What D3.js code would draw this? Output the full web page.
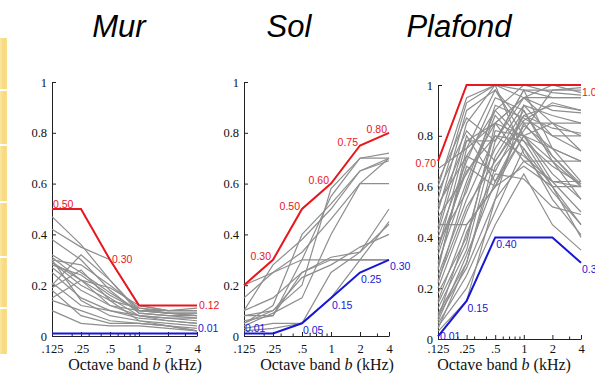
<!DOCTYPE html>
<html><head><meta charset="utf-8">
<script src="https://cdn.jsdelivr.net/npm/d3@7"></script>
<style>
html,body{margin:0;padding:0;background:#fff;overflow:hidden}
.serif{font-family:"Liberation Serif","DejaVu Serif","Times New Roman",serif !important}
.sans{font-family:"Liberation Sans",Arial,"DejaVu Sans",sans-serif !important}
</style>
</head><body>
<svg id="c" width="595" height="374"></svg>
<script>
// ---------- data ----------
const bands = [0.125, 0.25, 0.5, 1, 2, 4];
const bandLabels = [".125", ".25", ".5", "1", "2", "4"];
const minorBands = [0.2, 0.3, 0.4, 0.6, 0.7, 0.8, 0.9, 3];
const yTicks = [0, 0.2, 0.4, 0.6, 0.8, 1];
const yTickLabels = ["0", "0.2", "0.4", "0.6", "0.8", "1"];
const titles = ["Mur", "Sol", "Plafond"];
const xAxisTitle = "Octave band ";

const murMax = [0.50, 0.50, 0.30, 0.12, 0.12, 0.12];
const murMin = [0.01, 0.01, 0.01, 0.01, 0.01, 0.01];
const murMaxLabelIdx = [0, 2, 5];
const murMinLabelIdx = [5];
const murMaxLabelPos = ["ra", "r", "r"];
const murMinLabelPos = ["ra"];
const murGray = [
  [0.47, 0.36, 0.22, 0.10, 0.09, 0.09],
  [0.42, 0.35, 0.30, 0.12, 0.10, 0.10],
  [0.38, 0.30, 0.18, 0.09, 0.08, 0.07],
  [0.32, 0.25, 0.17, 0.10, 0.10, 0.11],
  [0.31, 0.22, 0.15, 0.08, 0.06, 0.05],
  [0.30, 0.28, 0.20, 0.11, 0.09, 0.08],
  [0.29, 0.20, 0.14, 0.06, 0.05, 0.04],
  [0.28, 0.24, 0.16, 0.10, 0.09, 0.09],
  [0.27, 0.18, 0.12, 0.08, 0.07, 0.06],
  [0.20, 0.32, 0.22, 0.09, 0.08, 0.08],
  [0.21, 0.12, 0.10, 0.07, 0.06, 0.05],
  [0.19, 0.26, 0.14, 0.11, 0.10, 0.10],
  [0.15, 0.22, 0.12, 0.10, 0.09, 0.08],
  [0.14, 0.10, 0.06, 0.05, 0.04, 0.03],
  [0.10, 0.05, 0.04, 0.04, 0.03, 0.02],
  [0.30, 0.14, 0.08, 0.06, 0.04, 0.02],
  [0.18, 0.08, 0.05, 0.05, 0.04, 0.02],
  [0.25, 0.15, 0.10, 0.08, 0.07, 0.07],
  [0.29, 0.22, 0.19, 0.12, 0.10, 0.10]
];

const solMax = [0.20, 0.30, 0.50, 0.60, 0.75, 0.80];
const solMin = [0.01, 0.01, 0.05, 0.15, 0.25, 0.30];
const solMaxLabelIdx = [1, 2, 3, 4, 5];
const solMinLabelIdx = [0, 2, 3, 4, 5];
const solMaxLabelPos = ["la", "la", "la", "la", "la"];
const solMinLabelPos = ["ra", "rb", "rb", "rb", "rb"];
const solGray = [
  [0.15, 0.25, 0.30, 0.30, 0.30, 0.30],
  [0.20, 0.25, 0.33, 0.46, 0.60, 0.60],
  [0.10, 0.28, 0.38, 0.50, 0.65, 0.70],
  [0.10, 0.15, 0.25, 0.31, 0.33, 0.44],
  [0.08, 0.08, 0.30, 0.55, 0.70, 0.70],
  [0.05, 0.10, 0.20, 0.58, 0.70, 0.72],
  [0.04, 0.09, 0.15, 0.40, 0.60, 0.70],
  [0.03, 0.05, 0.05, 0.25, 0.33, 0.50],
  [0.02, 0.03, 0.05, 0.15, 0.30, 0.45],
  [0.08, 0.10, 0.23, 0.28, 0.35, 0.40],
  [0.05, 0.12, 0.40, 0.52, 0.65, 0.69],
  [0.06, 0.08, 0.25, 0.30, 0.30, 0.30]
];

const plaMax = [0.70, 1.00, 1.00, 1.00, 1.00, 1.00];
const plaMin = [0.01, 0.15, 0.40, 0.40, 0.40, 0.30];
const plaMaxLabelIdx = [0, 5];
const plaMinLabelIdx = [0, 1, 2, 5];
const plaMaxLabelPos = ["l", "rb"];
const plaMinLabelPos = ["r", "rb", "rb", "rb"];
const plaGray = [
  [0.67, 0.75, 0.85, 0.80, 0.75, 0.70],
  [0.45, 0.45, 0.60, 0.80, 0.85, 0.80],
  [0.60, 0.95, 1.00, 0.98, 0.98, 0.98],
  [0.55, 0.93, 1.00, 0.95, 0.95, 0.95],
  [0.50, 0.90, 0.98, 0.85, 0.72, 0.60],
  [0.52, 0.78, 0.78, 0.95, 0.90, 0.89],
  [0.40, 0.70, 0.95, 0.90, 0.70, 0.55],
  [0.35, 0.78, 0.85, 0.70, 0.62, 0.60],
  [0.30, 0.62, 0.90, 1.00, 0.97, 0.96],
  [0.28, 0.72, 0.66, 0.88, 0.83, 0.81],
  [0.25, 0.55, 0.80, 0.78, 0.60, 0.45],
  [0.22, 0.60, 0.88, 0.75, 0.55, 0.41],
  [0.20, 0.50, 0.75, 0.92, 0.80, 0.74],
  [0.18, 0.40, 0.82, 0.80, 0.70, 0.70],
  [0.15, 0.45, 0.60, 0.85, 0.85, 0.85],
  [0.12, 0.35, 0.78, 0.98, 0.75, 0.62],
  [0.10, 0.30, 0.72, 0.90, 0.72, 0.61],
  [0.08, 0.42, 0.65, 0.63, 0.52, 0.49],
  [0.06, 0.25, 0.50, 0.75, 0.60, 0.40],
  [0.05, 0.20, 0.45, 0.65, 0.45, 0.35],
  [0.04, 0.30, 0.68, 0.82, 0.98, 0.99],
  [0.03, 0.15, 0.55, 0.70, 0.70, 0.60],
  [0.58, 0.82, 0.70, 0.88, 0.92, 0.90],
  [0.48, 0.65, 0.85, 0.95, 1.00, 0.97],
  [0.42, 0.80, 0.62, 0.80, 0.65, 0.55],
  [0.38, 0.58, 0.92, 0.87, 0.80, 0.80],
  [0.33, 0.68, 0.60, 0.68, 0.60, 0.60],
  [0.27, 0.75, 0.98, 0.80, 0.62, 0.50],
  [0.14, 0.38, 0.85, 0.95, 0.85, 0.74],
  [0.09, 0.28, 0.55, 0.92, 0.88, 0.85],
  [0.07, 0.33, 0.62, 0.84, 0.75, 0.70],
  [0.62, 0.87, 0.78, 0.98, 0.95, 0.95],
  [0.53, 0.72, 0.90, 0.78, 0.68, 0.61],
  [0.44, 0.85, 1.00, 0.73, 0.58, 0.45],
  [0.36, 0.66, 0.80, 0.72, 0.62, 0.62],
  [0.23, 0.52, 0.70, 0.86, 0.93, 0.90]
];

// ---------- drawing ----------
const svg = d3.select("#c");

// decorative yellow strip at left edge
const stripeBreaks = [37, 90, 145, 202, 257, 308, 355];
const defs = svg.append("defs");
const lg = defs.append("linearGradient").attr("id", "yg").attr("x1", "0").attr("x2", "1");
lg.append("stop").attr("offset", "0").attr("stop-color", "#fbe6a2");
lg.append("stop").attr("offset", "0.6").attr("stop-color", "#f7d977");
lg.append("stop").attr("offset", "1").attr("stop-color", "#f9e08e");
for (let i = 0; i < stripeBreaks.length - 1; i++) {
  svg.append("rect").attr("x", 0).attr("y", stripeBreaks[i] + 1)
    .attr("width", 7).attr("height", stripeBreaks[i + 1] - stripeBreaks[i] - 2)
    .attr("fill", "url(#yg)");
}

const panels = [
  {title: titles[0], gray: murGray, max: murMax, min: murMin, maxIdx: murMaxLabelIdx, minIdx: murMinLabelIdx, maxPos: murMaxLabelPos, minPos: murMinLabelPos,
   x0: 52, x1: 197, yTop: 82, yBot: 336, titleX: 119, xlabX: 135},
  {title: titles[1], gray: solGray, max: solMax, min: solMin, maxIdx: solMaxLabelIdx, minIdx: solMinLabelIdx, maxPos: solMaxLabelPos, minPos: solMinLabelPos,
   x0: 244, x1: 389, yTop: 82, yBot: 336, titleX: 289, xlabX: 327},
  {title: titles[2], gray: plaGray, max: plaMax, min: plaMin, maxIdx: plaMaxLabelIdx, minIdx: plaMinLabelIdx, maxPos: plaMaxLabelPos, minPos: plaMinLabelPos,
   x0: 438, x1: 581, yTop: 85, yBot: 339, titleX: 459, xlabX: 504}
];

const RED = "#e8161d", BLUE = "#1717d6";

panels.forEach(p => {
  const x = d3.scaleLog().base(2).domain([bands[0], bands[bands.length - 1]]).range([p.x0, p.x1]);
  const y = d3.scaleLinear().domain([0, 1]).range([p.yBot, p.yTop]);
  const g = svg.append("g");

  // title
  svg.append("text").attr("class", "sans").attr("x", p.titleX).attr("y", 37).attr("text-anchor", "middle")
    .attr("font-style", "italic").attr("font-size", 31)
    .attr("fill", "#000").text(p.title);

  // axes
  const ya = d3.axisLeft(y).tickValues(yTicks).tickFormat((d, i) => yTickLabels[i])
    .tickSizeInner(-4).tickSizeOuter(0).tickPadding(5);
  const yg = g.append("g").attr("transform", `translate(${p.x0},0)`).call(ya);
  const xa = d3.axisBottom(x).tickValues(bands).tickFormat((d, i) => bandLabels[i])
    .tickSizeInner(-4).tickSizeOuter(0).tickPadding(8 - (p.yBot - 336));
  const xg = g.append("g").attr("transform", `translate(0,${p.yBot})`).call(xa);
  const xm = d3.axisBottom(x).tickValues(minorBands).tickFormat("").tickSizeInner(-2.5).tickSizeOuter(0);
  const xmg = g.append("g").attr("transform", `translate(0,${p.yBot})`).call(xm);
  xmg.select(".domain").remove();
  [yg, xg, xmg].forEach(a => {
    a.attr("font-family", null);
    a.selectAll("path,line").attr("stroke", "#222").attr("stroke-width", 1);
    a.selectAll("text").attr("class", "serif").attr("font-size", 12.5).attr("fill", "#111");
  });

  // x axis title
  const xt = svg.append("text").attr("class", "serif").attr("x", p.xlabX).attr("y", 370).attr("text-anchor", "middle")
    .attr("font-size", 16).attr("fill", "#111");
  xt.append("tspan").text(xAxisTitle);
  xt.append("tspan").attr("font-style", "italic").text("b");
  xt.append("tspan").text(" (kHz)");

  const line = d3.line().x((d, i) => x(bands[i])).y(d => y(d));

  g.selectAll("path.gray").data(p.gray).enter().append("path").attr("class", "gray")
    .attr("d", line).attr("fill", "none").attr("stroke", "#8e8e8e").attr("stroke-width", 1.2);

  g.append("path").datum(p.max).attr("d", line).attr("fill", "none").attr("stroke", RED).attr("stroke-width", 2);
  g.append("path").datum(p.min).attr("d", line).attr("fill", "none").attr("stroke", BLUE).attr("stroke-width", 2);

  function labels(vals, idx, pos, color) {
    idx.forEach((k, j) => {
      const px = x(bands[k]), py = y(vals[k]);
      let dx = 2, dy = 0, anchor = "start";
      switch (pos[j]) {
        case "r": dx = 2; dy = 0; break;
        case "ra": dx = 1; dy = -5; break;
        case "rb": dx = 1; dy = 7; break;
        case "l": dx = -2; dy = 2; anchor = "end"; break;
        case "la": dx = -2; dy = -3; anchor = "end"; break;
      }
      g.append("text").attr("class", "sans").attr("x", px + dx).attr("y", py + dy).attr("dy", "0.35em")
        .attr("text-anchor", anchor).attr("font-size", 10.5)
        .attr("fill", color).text(vals[k].toFixed(2));
    });
  }
  labels(p.max, p.maxIdx, p.maxPos, RED);
  labels(p.min, p.minIdx, p.minPos, BLUE);
});
</script>
</body></html>
